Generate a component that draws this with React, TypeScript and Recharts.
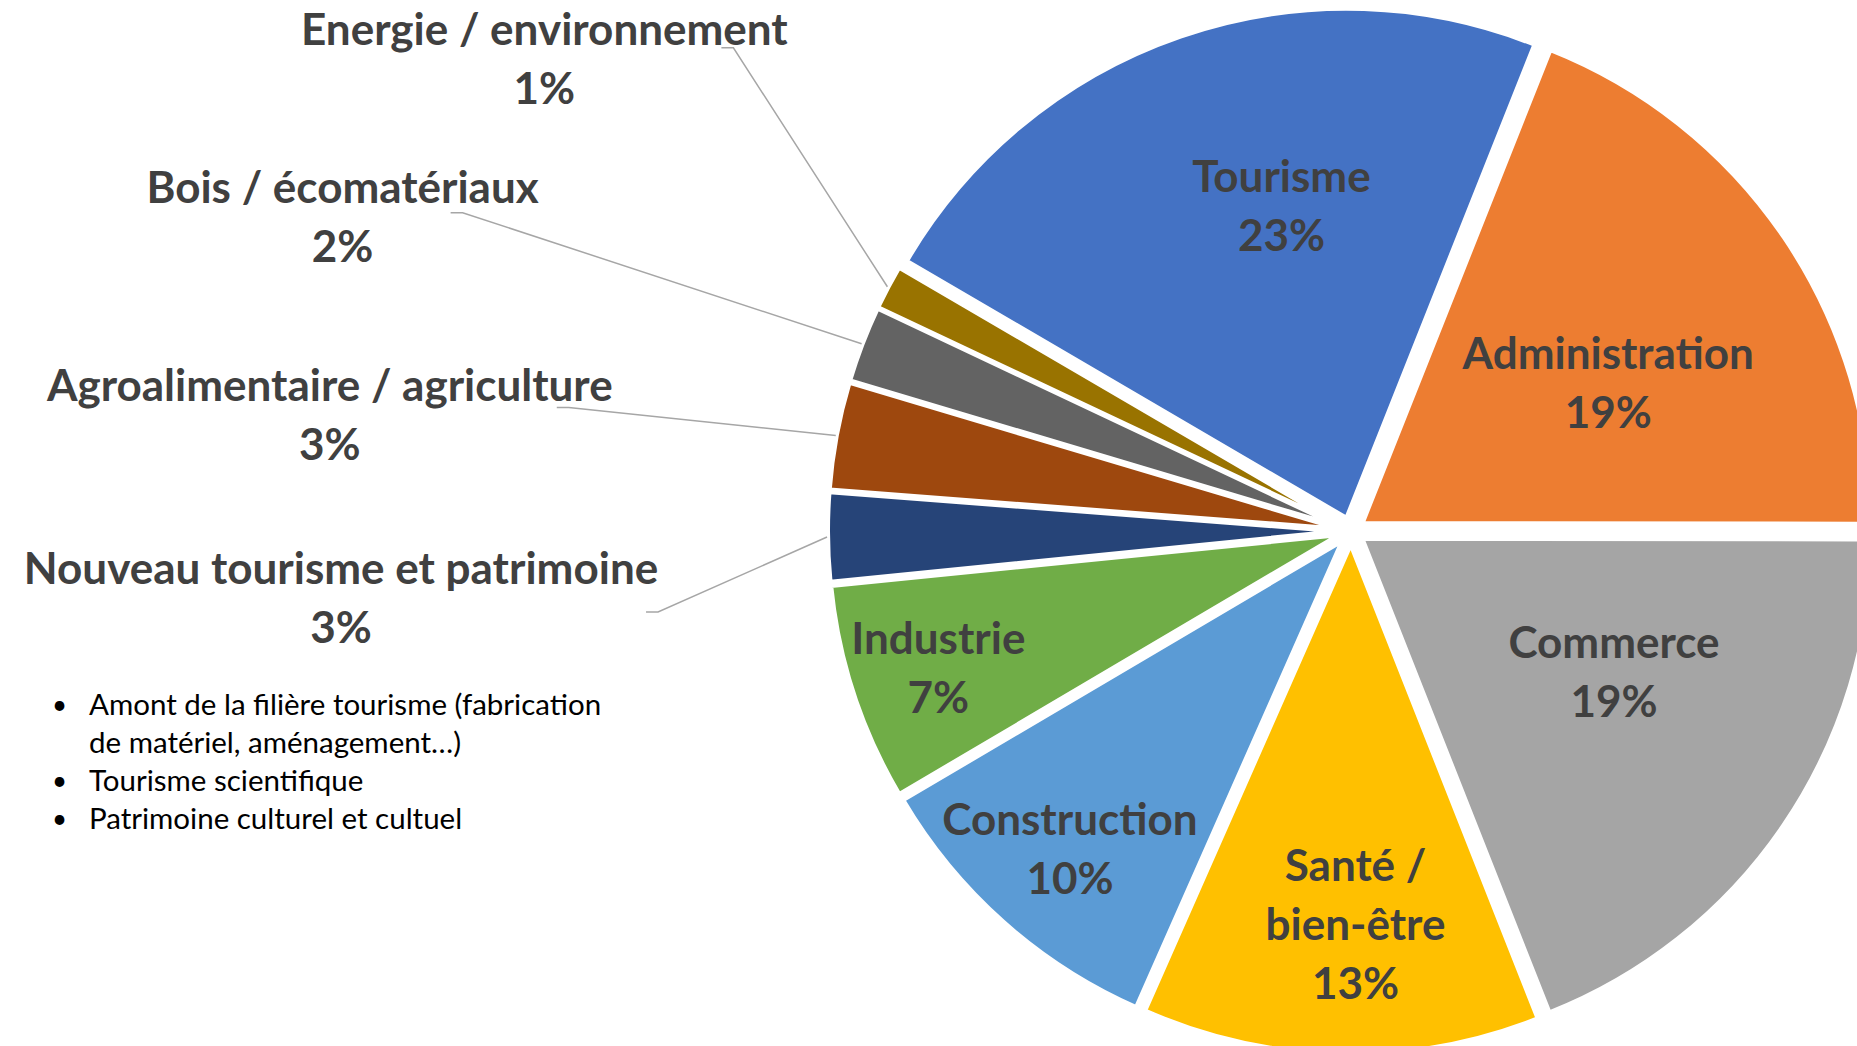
import { PieChart, Pie, Cell, Sector } from 'recharts';

// slices in drawing order, clockwise starting from "Tourisme"
const categories = [
    'Tourisme',
    'Administration',
    'Commerce',
    'Santé / bien-être',
    'Construction',
    'Industrie',
    'Nouveau tourisme et patrimoine',
    'Agroalimentaire / agriculture',
    'Bois / écomatériaux',
    'Energie / environnement',
];
const shares = [22.6, 19.0, 19.0, 12.6, 9.9, 6.9, 2.8, 3.4, 2.4, 1.4];
const colors = ['#4472C4', '#ED7D31', '#A5A5A5', '#FFC000', '#5B9BD5', '#70AD47', '#264478', '#9E480E', '#636363', '#997300'];
const notes = [
    'Amont de la filière tourisme (fabrication de matériel, aménagement…)',
    'Tourisme scientifique',
    'Patrimoine culturel et cultuel',
];

const data = categories.map((name, i) => ({ name, value: shares[i] }));

const W = 1857;
const H = 1046;
const EXPLODE = 14;
const RAD = Math.PI / 180;
const LINE = 59;
const FONT = 'Lato, "Open Sans", sans-serif';
const LABEL_COLOR = '#404040';

// labels drawn inside the slice: radius as fraction of outerRadius, shift in degrees clockwise
const insideLayout: Record<string, { r: number; shift: number; lines?: string[] }> = {
    'Tourisme': { r: 0.656, shift: 7 },
    'Administration': { r: 0.585, shift: 3.9 },
    'Commerce': { r: 0.585, shift: -6.3 },
    'Santé / bien-être': { r: 0.77, shift: -1.8, lines: ['Santé /', 'bien-être'] },
    'Construction': { r: 0.831, shift: 0 },
    'Industrie': { r: 0.853, shift: 0 },
};

// labels outside with a leader line: offsets from the slice's outer edge
const outsideLayout: Record<string, { tx: number; ty: number; ex: number; ey: number }> = {
    'Energie / environnement': { tx: -343, ty: -229, ex: -154, ey: -239 },
    'Bois / écomatériaux': { tx: -519, ty: -128, ex: -399, ey: -131 },
    'Agroalimentaire / agriculture': { tx: -506, ty: -22, ex: -267, ey: -28 },
    'Nouveau tourisme et patrimoine': { tx: -486, ty: 59, ex: -169, ey: 75 },
};

function ExplodedSector(props: any) {
    const { cx, cy, midAngle } = props;
    return (
        <Sector
            {...props}
            cx={cx + EXPLODE * Math.cos(-midAngle * RAD)}
            cy={cy + EXPLODE * Math.sin(-midAngle * RAD)}
        />
    );
}

function LabelText({ x, y, lines }: { x: number; y: number; lines: string[] }) {
    const top = y - ((lines.length - 1) * LINE) / 2;
    return (
        <text
            textAnchor="middle"
            dominantBaseline="central"
            fill={LABEL_COLOR}
            fontFamily={FONT}
            fontWeight={700}
            fontSize={44}
        >
            {lines.map((l, i) => (
                <tspan key={i} x={x} y={top + i * LINE}>{l}</tspan>
            ))}
        </text>
    );
}

function renderLabel(props: any) {
    const { cx, cy, midAngle, outerRadius, percent } = props;
    const name: string = props.name ?? props.payload?.name;
    const pct = `${Math.round(percent * 100)}%`;

    const inside = insideLayout[name];
    if (inside) {
        const a = (midAngle - inside.shift) * RAD;
        const x = cx + outerRadius * inside.r * Math.cos(a);
        const y = cy - outerRadius * inside.r * Math.sin(a);
        return <LabelText key={name} x={x} y={y} lines={[...(inside.lines ?? [name]), pct]} />;
    }

    const out = outsideLayout[name];
    if (!out) return null;
    const a = midAngle * RAD;
    const r = outerRadius + EXPLODE + 1;
    const px = cx + r * Math.cos(a);
    const py = cy - r * Math.sin(a);
    const ex = px + out.ex;
    const ey = py + out.ey;
    return (
        <g key={name}>
            <polyline
                points={`${px},${py} ${ex},${ey} ${ex - 12},${ey}`}
                fill="none"
                stroke="#A6A6A6"
                strokeWidth={1.5}
            />
            <LabelText x={px + out.tx} y={py + out.ty} lines={[name, pct]} />
        </g>
    );
}

export default function App() {
    return (
        <div style={{ position: 'absolute', left: 0, top: 0, width: W, height: H, background: '#fff', overflow: 'hidden' }}>
            <PieChart width={W} height={H} margin={{ top: 0, right: 0, bottom: 0, left: 0 }}>
                <Pie
                    data={data}
                    dataKey="value"
                    nameKey="name"
                    cx={1351}
                    cy={531}
                    outerRadius={509}
                    startAngle={149.7}
                    endAngle={-210.3}
                    stroke="#fff"
                    strokeWidth={4}
                    shape={ExplodedSector}
                    activeShape={ExplodedSector}
                    inactiveShape={ExplodedSector}
                    label={renderLabel}
                    labelLine={false}
                    isAnimationActive={false}
                >
                    {data.map((entry, index) => (
                        <Cell key={`cell-${index}`} fill={colors[index]} />
                    ))}
                </Pie>
            </PieChart>
            <div
                style={{
                    position: 'absolute',
                    left: 89,
                    top: 685,
                    width: 528,
                    fontFamily: FONT,
                    fontSize: 29.5,
                    lineHeight: '38px',
                    color: '#000',
                }}
            >
                {notes.map((n, i) => (
                    <div key={i} style={{ position: 'relative' }}>
                        <span style={{ position: 'absolute', left: -37, top: 0, fontSize: 26 }}>•</span>
                        {n}
                    </div>
                ))}
            </div>
        </div>
    );
}
